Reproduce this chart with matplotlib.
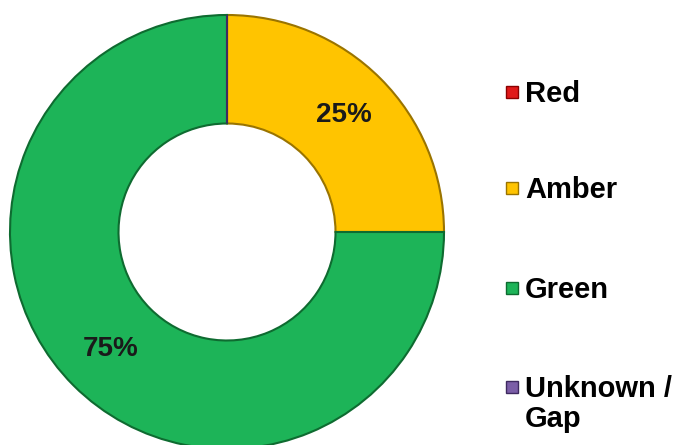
import numpy as np
import matplotlib.pyplot as plt
from matplotlib.lines import Line2D

plt.rcParams['font.family'] = ['Liberation Sans', 'DejaVu Sans']

labels = ['Red', 'Amber', 'Green', 'Unknown /\nGap']
values = [0, 25, 75, 0]
colors = ['#E01818', '#FFC400', '#1DB458', '#7B5EA7']
edges = ['#8A0000', '#9A7400', '#0E6B30', '#3E2A60']

fig = plt.figure(figsize=(6.75, 4.45), dpi=100)
ax = fig.add_axes([10 / 675, -4 / 445, 434 / 675, 434 / 445])

wedges, _ = ax.pie(values, colors=colors, startangle=90, counterclock=False,
                   radius=1.0, wedgeprops=dict(width=0.5, linewidth=1.5))
for w, ec in zip(wedges, edges):
    w.set_edgecolor(ec)

# etiquettes en pourcentage au milieu de chaque secteur non nul
total = sum(values)
start = 90
for v in values:
    ang = start - v / total * 360 / 2
    if v > 0:
        r = 0.76
        ax.text(r * np.cos(np.radians(ang)), r * np.sin(np.radians(ang)), f'{v}%',
                ha='center', va='center', fontsize=20, fontweight='bold', color='#1a1a1a')
    start -= v / total * 360
ax.set_xlim(-1, 1)
ax.set_ylim(-1, 1)
ax.set_aspect('equal')

# legende dessinee a la main (espacement large comme l'original)
leg_y = [92, 188, 288, 387]
for lab, c, e, y in zip(labels, colors, edges, leg_y):
    yf = 1 - y / 445
    fig.add_artist(Line2D([512 / 675], [yf], marker='s', linestyle='', markersize=9,
                          markerfacecolor=c, markeredgecolor=e, markeredgewidth=1,
                          transform=fig.transFigure))
    fig.text(525 / 675, yf + 12 / 445, lab, ha='left', va='top', fontsize=21,
             fontweight='bold', linespacing=1.1)

fig.savefig('out.png', dpi=100)
